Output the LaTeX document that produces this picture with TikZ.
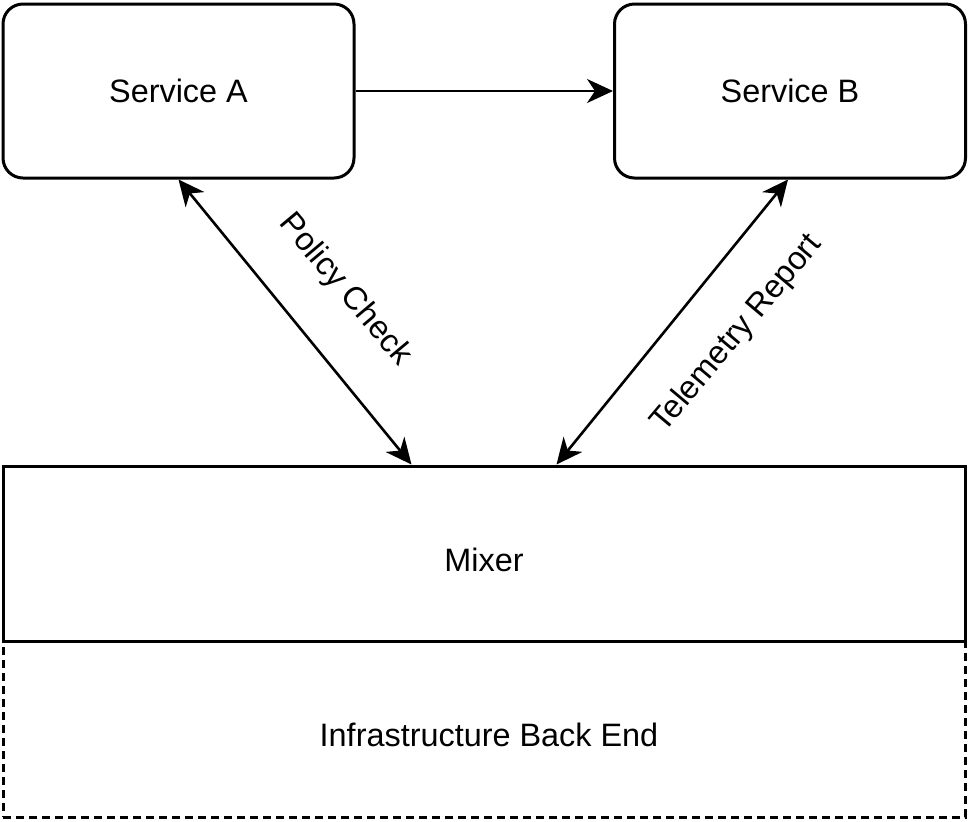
\documentclass[tikz,border=0pt]{standalone}
\usepackage{fontspec}
\setmainfont{Liberation Sans}
\usetikzlibrary{arrows.meta}
\begin{document}
\begin{tikzpicture}[x=0.5pt,y=-0.5pt,
  every node/.style={font=\fontsize{16.2}{19}\selectfont},
  svc/.style={draw, line width=1.5pt, rounded corners=10pt, inner sep=0pt,
    minimum width=175.5pt, minimum height=87pt},
  mix/.style={draw, line width=1.5pt, fill=white, inner sep=0pt,
    minimum width=481pt, minimum height=87.5pt},
  infra/.style={draw, line width=1.5pt, dash pattern=on 4pt off 2.5pt, inner sep=0pt,
    minimum width=481pt, minimum height=88pt},
  conn/.style={line width=1.3pt, -{Stealth[length=13pt,width=12pt,inset=4pt]}},
  dconn/.style={line width=1.3pt, {Stealth[length=13pt,width=12pt,inset=4pt]}-{Stealth[length=13pt,width=12pt,inset=4pt]}},
  lbl/.style={inner sep=0pt}
]
\path[use as bounding box, fill=white] (0,0) rectangle (969,821);
\node[svc] (A) at (178.5,91) {Service A};
\node[svc] (B) at (790,91) {Service B};
\node[infra] (I) at (484,729) {};
\node[mix] (M) at (484,553.5) {};
\node[lbl] (mt) at (484,560) {Mixer};
\node[lbl] (it) at (489,735) {Infrastructure Back End};
\draw[conn] (A.east) -- (B.west);
\draw[dconn] ([xshift=88.5pt]A.south west) -- ([xshift=205pt]M.north west);
\draw[dconn] ([xshift=87.5pt]B.south west) -- ([xshift=277.5pt]M.north west);
\node[lbl, rotate=-50] (pc) at (345,290) {Policy Check};
\node[lbl, rotate=50] (tr) at (737,334) {Telemetry Report};
\end{tikzpicture}
\end{document}
